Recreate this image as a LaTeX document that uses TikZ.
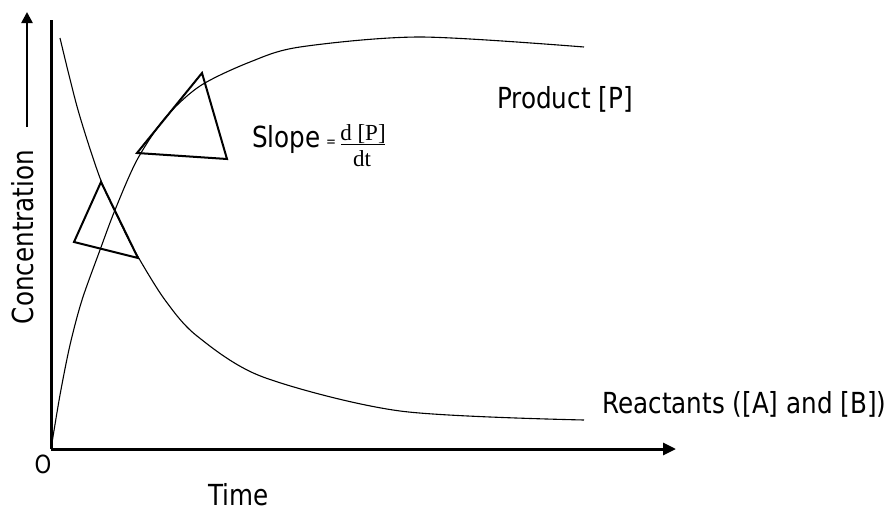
\documentclass[tikz,border=0pt]{standalone}
\usepackage{fontspec}
\setmainfont{DejaVu Sans}[FakeStretch=0.85]
\newfontfamily\fracfont{Liberation Serif}
\usetikzlibrary{arrows.meta}
\begin{document}
\begin{tikzpicture}[x=1pt,y=-1pt,
  axisline/.style={line width=3pt},
  curveline/.style={line width=1.1pt},
  tangent/.style={line width=2pt, line join=miter},
  lbl/.style={inner sep=0pt, font=\fontsize{29}{32}\selectfont},
  fracpart/.style={inner sep=0pt, font=\fracfont\fontsize{23}{25}\selectfont}]
\useasboundingbox (0,0) rectangle (895,506);

% axes
\coordinate (O) at (51,449);
\coordinate (ytop) at (51,20);
\coordinate (xend) at (676,449);
\draw[axisline] (ytop) -- (O);
\draw[axisline, -{Triangle[length=13pt,width=12pt]}] (O) -- (xend);

% concentration label with its arrow
\node[lbl, rotate=90, anchor=base] (conc) at (33,237) {Concentration};
\coordinate (cbot) at (27,127);
\coordinate (ctop) at (27,12);
\draw[line width=2.5pt, -{Triangle[length=11pt,width=11pt]}] (cbot) -- (ctop);

\node[lbl, font=\fontsize{25}{27}\selectfont] (orig) at (43,464) {O};
\node[lbl, anchor=base west] (time) at (208,505) {Time};

% product curve
\draw[curveline] plot[smooth] coordinates {(51,449) (60,395) (70,345) (82,300) (100,250) (115,210) (137,160) (165,118) (200,86) (250,62) (300,47) (420,37) (584,47)};
% reactant curve
\draw[curveline] plot[smooth] coordinates {(60,38) (78,110) (100,178) (120,222) (137,255) (165,300) (197,336) (263,377) (400,411) (584,420)};

% tangent triangles
\draw[tangent] (101,182) -- (74,242) -- (138,258) -- cycle;
\draw[tangent] (202,73) -- (137,153) -- (227,159) -- cycle;

% labels
\node[lbl, anchor=base west] (prod) at (497,108) {Product [P]};
\node[lbl, anchor=base west] (react) at (602,413) {Reactants ([A] and [B])};
\node[lbl, anchor=base west] (slope) at (252,147) {Slope};
\node[inner sep=0pt, font=\fontsize{14}{15}\selectfont] (eq) at (331,143) {=};
\node[fracpart, anchor=base] (num) at (363,140) {d [P]};
\node[fracpart, anchor=base] (den) at (362,166) {dt};
\coordinate (fl) at (341,144);
\coordinate (fr) at (385,144);
\draw[line width=1pt] (fl) -- (fr);
\end{tikzpicture}
\end{document}
